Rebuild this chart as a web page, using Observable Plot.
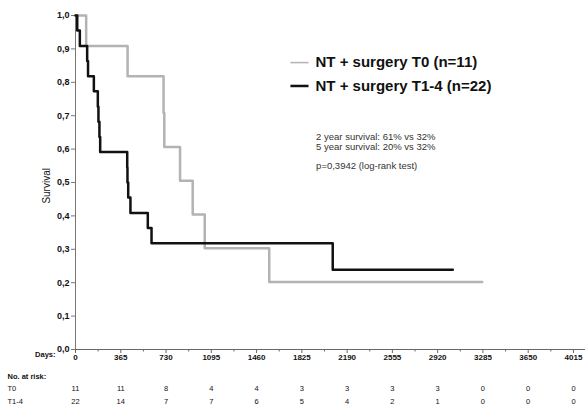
<!DOCTYPE html>
<html><head><meta charset="utf-8">
<script src="https://cdn.jsdelivr.net/npm/d3@7"></script>
<script src="https://cdn.jsdelivr.net/npm/@observablehq/plot@0.6"></script>
<style>body{margin:0;background:#fff}#chart svg{display:block}</style>
</head><body><div id="chart"></div>
<script>
// Kaplan-Meier step data (days, survival)
const t0Days  = [0, 86, 420, 710, 716, 843, 945, 1042, 1562, 3279];
const t0Surv  = [1, 0.909, 0.818, 0.709, 0.606, 0.505, 0.404, 0.303, 0.202, 0.202];
const t14Days = [0, 14, 35, 94, 101, 148, 180, 185, 193, 199, 417, 419, 425, 443, 583, 613, 2074, 3042];
const t14Surv = [1, 0.955, 0.909, 0.864, 0.818, 0.773, 0.727, 0.682, 0.636, 0.591, 0.545, 0.5, 0.455, 0.409, 0.364, 0.318, 0.239, 0.239];

const seriesNames  = ["NT + surgery T0 (n=11)", "NT + surgery T1-4 (n=22)"];
const seriesColors = ["#b3b3b3", "#111111"];
const statLines = ["2 year survival: 61% vs 32%", "5 year survival: 20% vs 32%", "p=0,3942 (log-rank test)"];

const dayTicks  = [0, 365, 730, 1095, 1460, 1825, 2190, 2555, 2920, 3285, 3650, 4015];
const survTicks = [0, 0.1, 0.2, 0.3, 0.4, 0.5, 0.6, 0.7, 0.8, 0.9, 1.0];

const riskGroups = ["T0", "T1-4"];
const riskT0  = [11, 11, 8, 4, 4, 3, 3, 3, 3, 0, 0, 0];
const riskT14 = [22, 14, 7, 7, 6, 5, 4, 2, 1, 0, 0, 0];

const toRows = (days, surv) => days.map((d, i) => ({day: d, s: surv[i]}));
const minorTicks = dayTicks.slice(0, -1).map((d, i) => (d + dayTicks[i + 1]) / 2);

// layout (legend/annotation anchors in data space)
const legendY = [0.859, 0.789];
const legendX1 = 1733, legendX2 = 1879, legendTextX = 1935;
const statY = [0.637, 0.605, 0.549];

const chart = Plot.plot({
  width: 585, height: 410,
  marginLeft: 75, marginRight: 0, marginTop: 15, marginBottom: 61,
  x: {domain: [0, 4112]},
  y: {domain: [0, 1]},
  style: {fontFamily: "'Liberation Sans', Arial, sans-serif", background: "#fff", color: "#111"},
  marks: [
    // axes
    Plot.ruleX([0], {y1: 0, y2: 1, stroke: "#777", strokeWidth: 1}),
    Plot.ruleY([0], {stroke: "#666", strokeWidth: 1}),
    Plot.axisY({ticks: survTicks, tickSize: 4, tickPadding: 2, stroke: "#777",
      tickFormat: d => d.toFixed(1).replace(".", ","), fontWeight: "bold", fontSize: 9, label: null}),
    Plot.axisX({ticks: dayTicks, tickSize: 4, tickPadding: 1, stroke: "#666",
      tickFormat: d => String(d), fontWeight: "bold", fontSize: 8, label: null}),
    Plot.axisX({ticks: minorTicks, tickSize: 2.5, stroke: "#666", text: null, label: null}),
    Plot.text(["Survival"], {x: () => 0, y: () => 0.49, dx: -29, rotate: -90, fontSize: 10}),
    Plot.text(["Days:"], {frameAnchor: "bottom-left", dx: -20, dy: 7.5, textAnchor: "end", fontWeight: "bold", fontSize: 7.5}),

    // survival curves
    Plot.line(toRows(t0Days, t0Surv), {x: "day", y: "s", curve: "step-after", stroke: seriesColors[0], strokeWidth: 2.5}),
    Plot.line(toRows(t14Days, t14Surv), {x: "day", y: "s", curve: "step-after", stroke: seriesColors[1], strokeWidth: 2.5}),

    // legend
    Plot.link(seriesNames, {x1: () => legendX1, x2: () => legendX2, y1: (d, i) => legendY[i], y2: (d, i) => legendY[i],
      stroke: (d, i) => seriesColors[i], strokeWidth: (d, i) => i === 0 ? 1.5 : 2.5}),
    Plot.text(seriesNames, {x: () => legendTextX, y: (d, i) => legendY[i], textAnchor: "start",
      fontWeight: "bold", fontSize: 15, fill: "#111"}),

    // statistics annotation
    Plot.text(statLines, {x: () => legendTextX + 5, y: (d, i) => statY[i], textAnchor: "start", fontSize: 9.5, fill: "#333"}),

    // risk table
    Plot.text(["No. at risk:"], {frameAnchor: "bottom-left", dx: -68, dy: 29.5, textAnchor: "start", fontWeight: "bold", fontSize: 7.5}),
    Plot.text([riskGroups[0]], {frameAnchor: "bottom-left", dx: -68, dy: 41, textAnchor: "start", fontSize: 7.5}),
    Plot.text([riskGroups[1]], {frameAnchor: "bottom-left", dx: -68, dy: 54.5, textAnchor: "start", fontSize: 7.5}),
    Plot.text(dayTicks, {x: d => d, frameAnchor: "bottom", dy: 41, text: (d, i) => String(riskT0[i]), fontSize: 7.5}),
    Plot.text(dayTicks, {x: d => d, frameAnchor: "bottom", dy: 54.5, text: (d, i) => String(riskT14[i]), fontSize: 7.5})
  ]
});
document.getElementById("chart").appendChild(chart);
</script>
</body></html>
